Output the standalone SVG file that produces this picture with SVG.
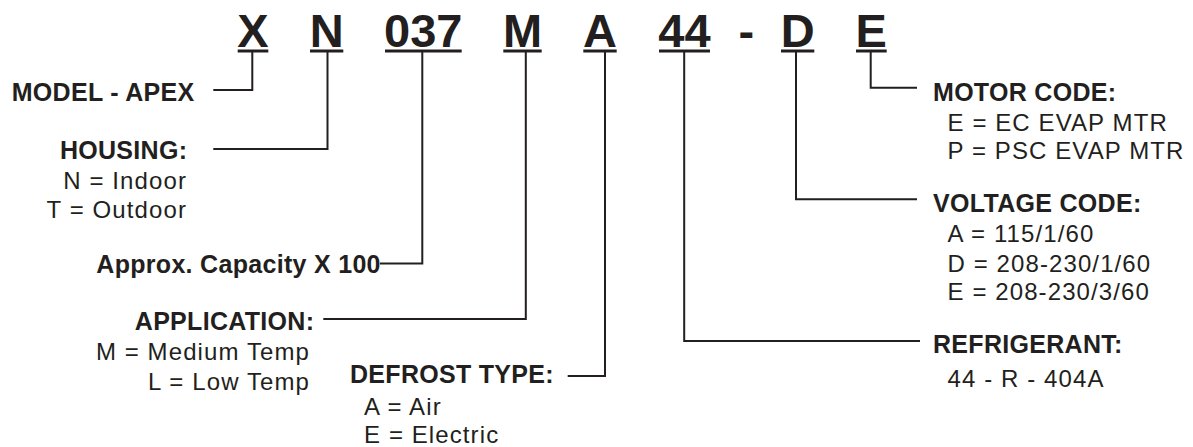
<svg xmlns="http://www.w3.org/2000/svg" width="1193" height="447" viewBox="0 0 1193 447">
<style>
.code{font-family:"Liberation Sans",Arial,sans-serif;font-weight:bold;font-size:47px;fill:#231f20;text-anchor:middle}
.h{font-family:"Liberation Sans",Arial,sans-serif;font-weight:bold;font-size:25px;letter-spacing:0.3px;fill:#231f20}
.v{font-family:"Liberation Sans",Arial,sans-serif;font-size:24px;letter-spacing:1.1px;fill:#231f20}
.r{text-anchor:end}
.ul{stroke:#231f20;stroke-width:3;fill:none}
.c{stroke:#231f20;stroke-width:2;fill:none}
</style>
<rect width="1193" height="447" fill="#ffffff"/>
<g id="code">
<text class="code" x="253" y="47">X</text>
<text class="code" x="326.7" y="47">N</text>
<text class="code" x="423.3" y="47">037</text>
<text class="code" x="522.5" y="47">M</text>
<text class="code" x="600" y="47">A</text>
<text class="code" x="684.5" y="47">44</text>
<text class="code" x="746.3" y="47">-</text>
<text class="code" x="797.7" y="47">D</text>
<text class="code" x="871.3" y="47">E</text>
<line class="ul" x1="237.7" y1="51" x2="268.3" y2="51"/>
<line class="ul" x1="310" y1="51" x2="343.3" y2="51"/>
<line class="ul" x1="385" y1="51" x2="461.7" y2="51"/>
<line class="ul" x1="503.3" y1="51" x2="541.7" y2="51"/>
<line class="ul" x1="583.3" y1="51" x2="616.7" y2="51"/>
<line class="ul" x1="659" y1="51" x2="710" y2="51"/>
<line class="ul" x1="781" y1="51" x2="814.3" y2="51"/>
<line class="ul" x1="856" y1="51" x2="886.7" y2="51"/>
</g>
<g id="connectors">
<polyline class="c" points="252.3,52 252.3,90 213.3,90"/>
<polyline class="c" points="327.5,52 327.5,149 213.3,149"/>
<polyline class="c" points="422.3,52 422.3,263.5 380,263.5"/>
<polyline class="c" points="525.8,52 525.8,319 323.3,319"/>
<polyline class="c" points="605,52 605,376 567.7,376"/>
<polyline class="c" points="684.2,52 684.2,341 920,341"/>
<polyline class="c" points="796,52 796,199.3 917,199.3"/>
<polyline class="c" points="870.7,52 870.7,87.7 917,87.7"/>
</g>
<g id="model">
<text class="h" x="11.7" y="100.5">MODEL - APEX</text>
</g>
<g id="housing">
<text class="h r" x="187.3" y="158.5">HOUSING:</text>
<text class="v r" x="187" y="189.3">N = Indoor</text>
<text class="v r" x="187" y="218.3">T = Outdoor</text>
</g>
<g id="capacity">
<text class="h r" x="380.8" y="273.3">Approx. Capacity X 100</text>
</g>
<g id="application">
<text class="h r" x="314.3" y="330">APPLICATION:</text>
<text class="v r" x="310" y="360">M = Medium Temp</text>
<text class="v r" x="310" y="390">L = Low Temp</text>
</g>
<g id="defrost">
<text class="h" x="350" y="383.3">DEFROST TYPE:</text>
<text class="v" x="364" y="415">A = Air</text>
<text class="v" x="364" y="443">E = Electric</text>
</g>
<g id="motor">
<text class="h" x="933" y="100.5">MOTOR CODE:</text>
<text class="v" x="947.5" y="130.5">E = EC EVAP MTR</text>
<text class="v" x="947.5" y="159.3">P = PSC EVAP MTR</text>
</g>
<g id="voltage">
<text class="h" x="933" y="212.3">VOLTAGE CODE:</text>
<text class="v" x="947.5" y="241.7">A = 115/1/60</text>
<text class="v" x="947.5" y="271.5">D = 208-230/1/60</text>
<text class="v" x="947.5" y="300">E = 208-230/3/60</text>
</g>
<g id="refrigerant">
<text class="h" x="933" y="353.3">REFRIGERANT:</text>
<text class="v" x="947.5" y="386.5">44 - R - 404A</text>
</g>
</svg>
